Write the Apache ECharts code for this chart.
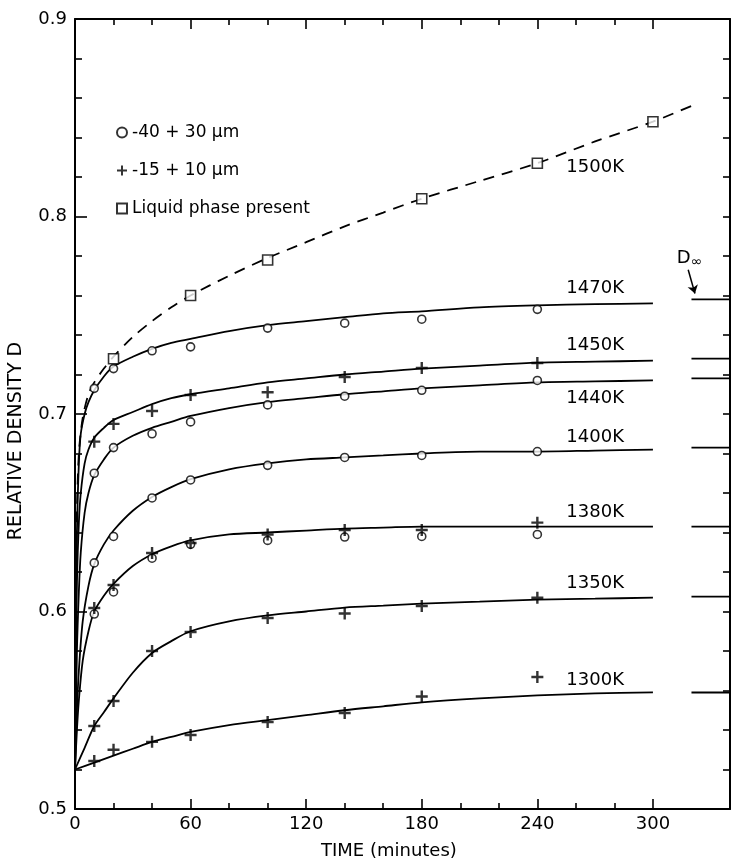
<!DOCTYPE html>
<html>
<head>
<meta charset="utf-8">
<script src="https://cdn.jsdelivr.net/npm/echarts@6/dist/echarts.min.js"></script>
<style>
html, body { margin:0; padding:0; background:#fff; }
#main { width:732px; height:864px; }
</style>
</head>
<body>
<div id="main"></div>
<script>
// measured points (time in minutes)
var times = [10, 20, 40, 60, 100, 140, 180, 240];
var circle1470 = [0.713, 0.723, 0.732, 0.734, 0.7435, 0.746, 0.748, 0.753];
var plus1450   = [0.686, 0.695, 0.7015, 0.7096, 0.711, 0.7187, 0.7233, 0.7258];
var circle1440 = [0.670, 0.683, 0.690, 0.696, 0.7046, 0.709, 0.712, 0.717];
var circle1400 = [0.6246, 0.638, 0.6575, 0.6666, 0.674, 0.678, 0.679, 0.681];
var plus1380   = [0.6018, 0.6134, 0.6296, 0.6347, 0.639, 0.6413, 0.6413, 0.645];
var circle1380 = [0.5987, 0.6099, 0.627, 0.634, 0.636, 0.6377, 0.638, 0.639];
var plus1350   = [0.542, 0.5547, 0.58, 0.5896, 0.5967, 0.599, 0.6028, 0.607];
var plus1300   = [0.5243, 0.530, 0.534, 0.5375, 0.544, 0.5486, 0.557, 0.5668];
var squareTimes = [20, 60, 100, 180, 240, 300];
var square1500  = [0.728, 0.760, 0.778, 0.809, 0.827, 0.848];

// fitted curves
var curve1500 = [[0,0.52],[0.5,0.61],[1,0.65],[2,0.68],[4,0.698],[7,0.71],[10,0.716],[15,0.723],[20,0.729],[30,0.739],[40,0.747],[50,0.754],[60,0.76],[80,0.77],[100,0.779],[120,0.787],[140,0.795],[160,0.802],[180,0.809],[210,0.818],[240,0.827],[270,0.838],[300,0.848],[320,0.856]];
var curve1470 = [[0,0.52],[0.5,0.60],[1,0.64],[2,0.675],[3,0.69],[5,0.70],[7,0.706],[10,0.712],[15,0.719],[20,0.724],[30,0.729],[40,0.733],[50,0.736],[60,0.738],[80,0.742],[100,0.745],[120,0.747],[140,0.749],[160,0.751],[180,0.752],[210,0.754],[240,0.755],[270,0.7556],[300,0.756]];
var curve1450 = [[0,0.52],[0.5,0.58],[1,0.615],[2,0.645],[3,0.66],[5,0.675],[7,0.682],[10,0.688],[15,0.693],[20,0.697],[30,0.701],[40,0.705],[50,0.708],[60,0.710],[80,0.713],[100,0.716],[120,0.718],[140,0.720],[160,0.7215],[180,0.723],[210,0.7245],[240,0.726],[270,0.7265],[300,0.727]];
var curve1440 = [[0,0.52],[1,0.58],[2,0.61],[3,0.63],[5,0.65],[7,0.66],[10,0.669],[15,0.677],[20,0.683],[30,0.689],[40,0.693],[50,0.696],[60,0.699],[80,0.703],[100,0.706],[120,0.708],[140,0.710],[160,0.7115],[180,0.713],[210,0.7145],[240,0.716],[270,0.7165],[300,0.717]];
var curve1400 = [[0,0.52],[1,0.55],[2,0.57],[4,0.595],[7,0.613],[10,0.624],[15,0.634],[20,0.641],[30,0.651],[40,0.658],[50,0.663],[60,0.667],[80,0.672],[100,0.675],[120,0.677],[140,0.678],[160,0.679],[180,0.680],[210,0.681],[240,0.681],[270,0.6815],[300,0.682]];
var curve1380 = [[0,0.52],[1,0.54],[2,0.555],[4,0.575],[7,0.59],[10,0.600],[15,0.608],[20,0.614],[30,0.623],[40,0.629],[50,0.633],[60,0.636],[80,0.639],[100,0.640],[120,0.641],[140,0.642],[160,0.6425],[180,0.643],[210,0.643],[240,0.643],[270,0.643],[300,0.643]];
var curve1350 = [[0,0.52],[5,0.531],[10,0.542],[15,0.549],[20,0.556],[30,0.569],[40,0.579],[50,0.585],[60,0.59],[80,0.595],[100,0.598],[120,0.600],[140,0.602],[160,0.603],[180,0.604],[210,0.605],[240,0.606],[270,0.6065],[300,0.607]];
var curve1300 = [[0,0.52],[10,0.5235],[20,0.527],[30,0.5305],[40,0.534],[50,0.5365],[60,0.539],[80,0.5425],[100,0.545],[120,0.5475],[140,0.55],[160,0.552],[180,0.554],[210,0.556],[240,0.5575],[270,0.5585],[300,0.559]];

// D infinity (asymptote) levels
var dInf = [0.758, 0.728, 0.718, 0.683, 0.643, 0.6075, 0.559];

var tempNames  = ['1500K','1470K','1450K','1440K','1400K','1380K','1350K','1300K'];
var tempLabelY = [0.825, 0.7638, 0.735, 0.708, 0.688, 0.650, 0.6144, 0.565];

var xLabelTicks = [0, 60, 120, 180, 240, 300];
var xMinorTicks = [20, 40, 80, 100, 140, 160, 200, 220, 260, 280];

var FONT = 'DejaVu Sans';

function pairs(xs, ys){
	var out = [];
	for(var i = 0; i < xs.length; i++){ out.push([xs[i], ys[i]]); }
	return out;
}

var myChart = echarts.init(document.getElementById('main'), null, {renderer:'canvas'});

function buildOption(){
	var curves = [curve1500, curve1470, curve1450, curve1440, curve1400, curve1380, curve1350, curve1300];
	var series = [];

	for(var i = 0; i < curves.length; i++){
		series.push({
			name: tempNames[i],
			type: 'line',
			data: curves[i],
			symbol: 'none',
			smooth: 0.3,
			silent: true,
			z: 2,
			lineStyle: {
				color: '#000',
				width: 1.8,
				type: i == 0 ? [11, 8] : 'solid'
			},
			markPoint: {
				symbol: 'circle',
				symbolSize: 0,
				silent: true,
				label: {
					show: true,
					formatter: tempNames[i],
					color: '#000',
					fontFamily: FONT,
					fontSize: 18
				},
				data: [{ coord: [270, tempLabelY[i]] }]
			}
		});
	}

	// D-infinity marks at the right edge
	var infData = [];
	for(var k = 0; k < dInf.length; k++){
		infData.push([320, dInf[k]]);
		infData.push([340, dInf[k]]);
		infData.push(['-', '-']);
	}
	series.push({
		name: 'Dinf',
		type: 'line',
		data: infData,
		symbol: 'none',
		silent: true,
		connectNulls: false,
		lineStyle: { color:'#000', width:1.8 },
		markLine: {
			silent: true,
			symbol: ['none', 'arrow'],
			symbolSize: 8,
			lineStyle: { color:'#000', width:1.5, type:'solid' },
			label: { show:false },
			data: [[ {coord:[318.3, 0.773]}, {coord:[321.8, 0.761]} ]]
		},
		markPoint: {
			symbol: 'circle',
			symbolSize: 0,
			silent: true,
			label: {
				show: true,
				formatter: '{a|D}{b|\u221e}',
				rich: {
					a: { fontFamily: FONT, fontSize: 18, color:'#000' },
					b: { fontFamily: FONT, fontSize: 14, color:'#000', padding:[8,0,0,0] }
				}
			},
			data: [{ coord: [319, 0.779] }]
		}
	});

	var circles = pairs(times, circle1470).concat(pairs(times, circle1440), pairs(times, circle1400), pairs(times, circle1380));
	var pluses = pairs(times, plus1450).concat(pairs(times, plus1380), pairs(times, plus1350), pairs(times, plus1300));

	series.push({
		name: '-40 + 30 \u03bcm',
		type: 'scatter',
		data: circles,
		symbol: 'circle',
		symbolSize: 8,
		z: 5,
		itemStyle: { color:'#fff', borderColor:'#000', borderWidth:1.6 }
	});
	series.push({
		name: '-15 + 10 \u03bcm',
		type: 'scatter',
		data: pluses,
		symbol: 'path://M4,0h2v4h4v2h-4v4h-2v-4h-4v-2h4z',
		symbolSize: 12,
		z: 5,
		itemStyle: { color:'#000' }
	});
	series.push({
		name: 'Liquid phase present',
		type: 'scatter',
		data: pairs(squareTimes, square1500),
		symbol: 'rect',
		symbolSize: 10,
		z: 5,
		itemStyle: { color:'#fff', borderColor:'#000', borderWidth:1.6 }
	});

	var black = { color:'#000', width:1.6 };
	var hidden = { show:false };

	var option = {
		backgroundColor: '#fff',
		animation: false,
		grid: { left:75, right:2, top:19, bottom:55, containLabel:false },
		legend: {
			orient: 'vertical',
			left: 111,
			top: 119,
			itemWidth: 10,
			itemHeight: 10,
			itemGap: 21,
			selectedMode: false,
			textStyle: { fontFamily: FONT, fontSize: 17, color:'#000' },
			data: ['-40 + 30 \u03bcm', '-15 + 10 \u03bcm', 'Liquid phase present']
		},
		xAxis: [
			{
				type:'value', min:0, max:340, position:'bottom',
				axisLine:{ show:true, onZero:false, lineStyle:{color:'#000', width:2} },
				axisTick:{ show:true, inside:true, length:6, customValues: xMinorTicks, lineStyle:black },
				axisLabel:{ show:true, customValues: xLabelTicks, color:'#000', fontFamily:FONT, fontSize:18, margin:6 },
				splitLine: hidden
			},
			{
				type:'value', min:0, max:340, position:'bottom',
				axisLine:{ show:false, onZero:false },
				axisTick:{ show:true, inside:true, length:10, customValues: xLabelTicks, lineStyle:black },
				axisLabel: hidden, splitLine: hidden
			},
			{
				type:'value', min:0, max:340, position:'top',
				axisLine:{ show:true, onZero:false, lineStyle:{color:'#000', width:2} },
				axisTick:{ show:true, inside:true, length:6, customValues: xMinorTicks, lineStyle:black },
				axisLabel: hidden, splitLine: hidden
			},
			{
				type:'value', min:0, max:340, position:'top',
				axisLine:{ show:false, onZero:false },
				axisTick:{ show:true, inside:true, length:10, customValues: xLabelTicks, lineStyle:black },
				axisLabel: hidden, splitLine: hidden
			}
		],
		yAxis: [
			{
				type:'value', min:0.5, max:0.9, interval:0.1, position:'left',
				axisLine:{ show:true, onZero:false, lineStyle:{color:'#000', width:2} },
				axisTick:{ show:true, inside:true, length:12, lineStyle:black },
				minorTick:{ show:true, splitNumber:5, length:7, lineStyle:black },
				axisLabel:{ color:'#000', fontFamily:FONT, fontSize:18, margin:8,
					formatter:function(v){ return v.toFixed(1); } },
				splitLine: hidden, minorSplitLine: hidden
			},
			{
				type:'value', min:0.5, max:0.9, interval:0.1, position:'right',
				axisLine:{ show:true, onZero:false, lineStyle:{color:'#000', width:2} },
				axisTick:{ show:true, inside:true, length:7, lineStyle:black },
				minorTick:{ show:true, splitNumber:5, length:7, lineStyle:black },
				axisLabel: hidden, splitLine: hidden, minorSplitLine: hidden
			}
		],
		graphic: [
			{
				type:'text', left:321, top:842,
				style:{ text:'TIME (minutes)', fontFamily:FONT, fontSize:18, fill:'#000' }
			},
			{
				type:'text', x:7, y:441, rotation: Math.PI/2,
				style:{ text:'RELATIVE DENSITY D', fontFamily:FONT, fontSize:19, fill:'#000',
					align:'center', verticalAlign:'top' }
			}
		],
		series: series
	};
	return option;
}

myChart.setOption(buildOption(), true);
</script>
</body>
</html>
